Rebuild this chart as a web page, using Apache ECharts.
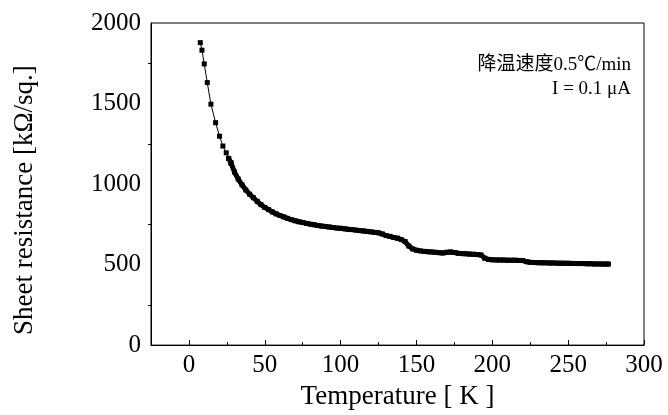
<!DOCTYPE html>
<html>
<head>
<meta charset="utf-8">
<script src="https://cdn.jsdelivr.net/npm/echarts@6/dist/echarts.min.js"></script>
<style>
html,body{margin:0;padding:0;background:#fff;}
#c{width:668px;height:415px;}
</style>
</head>
<body>
<div id="c"></div>
<script>
// Temperature (K) and sheet resistance (kΩ/sq.)
const temperature = [
  7.5, 8.6, 10.1, 12.1, 14.5, 17.6, 20.2, 22.4, 24.6, 26.2, 27.7,
  30, 32.5, 35, 37.5, 40, 42.5, 45, 47.5, 50, 52.5, 55, 57.5, 60, 62.5, 65, 67.5, 70, 72.5,
  75, 77.5, 80, 82.5, 85, 87.5, 90, 92.5, 95, 97.5, 100, 102.5, 105, 107.5, 110, 112.5,
  115, 117.5, 120, 122.5, 125, 127.5, 130, 132.5, 135, 137.5, 140, 142.5, 145, 147.5,
  150, 152.5, 155, 157.5, 160, 162.5, 165, 167.5, 170, 172.5, 175, 177.5, 180, 182.5,
  185, 187.5, 190, 192.5, 195, 197.5, 200, 202.5, 205, 207.5, 210, 212.5, 215, 217.5,
  220, 222.5, 225, 227.5, 230, 232.5, 235, 237.5, 240, 242.5, 245, 247.5, 250, 252.5,
  255, 257.5, 260, 262.5, 265, 267.5, 270, 272.5, 275, 276.5
];
const resistance = [
  1878, 1831, 1746, 1630, 1496, 1381, 1297, 1236, 1194, 1159, 1131,
  1075, 1031, 995, 963, 937, 915, 893, 872, 855, 841, 827, 815, 805, 796, 787, 779, 772, 766,
  761, 756, 751, 747, 743, 739, 736, 733, 730, 727, 725, 722, 719, 717, 714, 711,
  709, 706, 703, 700, 697, 690, 680, 675, 668, 664, 655, 643, 615, 597,
  589, 585, 582, 580, 578, 576, 574, 572, 576, 578, 575, 570, 568, 567,
  565, 564, 562, 560, 540, 532, 530, 529, 528, 528, 527, 527, 527, 526,
  525, 518, 514, 513, 512, 511, 511, 510, 510, 509, 509, 508, 508, 507,
  507, 506, 506, 505, 505, 504, 504, 503, 503, 503
];
const xTickLabels = [0, 50, 100, 150, 200, 250, 300];
const xMinorTicks = [-25, 25, 75, 125, 175, 225, 275];
const yTickLabels = [0, 500, 1000, 1500, 2000];
const noteLines = ['降温速度0.5℃/min', 'I = 0.1 μA'];
// readings become densely packed (overlapping markers) from this temperature on
const denseFromK = 26;

const serif = '"Liberation Serif", "Times New Roman", "Noto Sans CJK SC", serif';
const chart = echarts.init(document.getElementById('c'), null, {renderer: 'canvas'});
const data = temperature.map((t, i) => [t, resistance[i]]);
const sparse = data.filter(d => d[0] <= denseFromK + 2);
const dense = data.filter(d => d[0] >= denseFromK);

chart.setOption({
  animation: false,
  backgroundColor: '#fff',
  grid: {left: 151, right: 24, top: 23, bottom: 64, show: true, borderColor: '#000', borderWidth: 1, backgroundColor: 'transparent'},
  xAxis: [{
    type: 'value', min: -25, max: 300,
    name: 'Temperature [ K ]', nameLocation: 'middle', nameGap: 30,
    nameTextStyle: {fontFamily: serif, fontSize: 27, color: '#000'},
    axisLine: {show: true, onZero: false, lineStyle: {color: '#000', width: 1}},
    axisTick: {show: true, inside: true, length: 5, customValues: xTickLabels, lineStyle: {color: '#000'}},
    axisLabel: {show: true, customValues: xTickLabels, margin: 8, fontFamily: serif, fontSize: 25, color: '#000', formatter: v => String(v)},
    splitLine: {show: false}
  }, {
    type: 'value', min: -25, max: 300, position: 'bottom',
    axisLine: {show: false},
    axisTick: {show: true, inside: true, length: 3, customValues: xMinorTicks, lineStyle: {color: '#000'}},
    axisLabel: {show: false},
    splitLine: {show: false}
  }],
  yAxis: {
    type: 'value', min: 0, max: 2000, interval: 500,
    name: 'Sheet resistance [kΩ/sq.]', nameLocation: 'middle', nameGap: 113, nameRotate: 90,
    nameTextStyle: {fontFamily: serif, fontSize: 27, color: '#000', padding: [0, 32, 0, 0]},
    axisLine: {show: true, onZero: false, lineStyle: {color: '#000', width: 1}},
    axisTick: {show: false},
    minorTick: {show: true, splitNumber: 2, length: 3, lineStyle: {color: '#000'}},
    axisLabel: {margin: 10, fontFamily: serif, fontSize: 25, color: '#000', customValues: yTickLabels, formatter: v => String(v)},
    splitLine: {show: false},
    minorSplitLine: {show: false}
  },
  graphic: [
    {type: 'text', x: 631, y: 65, style: {text: noteLines[0], align: 'right', verticalAlign: 'middle', font: '19px ' + serif, fill: '#000'}},
    {type: 'text', x: 631, y: 89, style: {text: noteLines[1], align: 'right', verticalAlign: 'middle', font: '19px ' + serif, fill: '#000'}}
  ],
  series: [{
    type: 'line',
    xAxisIndex: 0,
    data: sparse,
    symbol: 'rect',
    symbolSize: 5,
    showSymbol: true,
    showAllSymbol: true,
    itemStyle: {color: '#000'},
    lineStyle: {color: '#000', width: 1},
    z: 3
  }, {
    type: 'line',
    xAxisIndex: 0,
    data: dense,
    symbol: 'rect',
    symbolSize: 5,
    showSymbol: true,
    showAllSymbol: true,
    itemStyle: {color: '#000'},
    lineStyle: {color: '#000', width: 5, join: 'round', cap: 'round'},
    z: 3
  }]
});
</script>
</body>
</html>
